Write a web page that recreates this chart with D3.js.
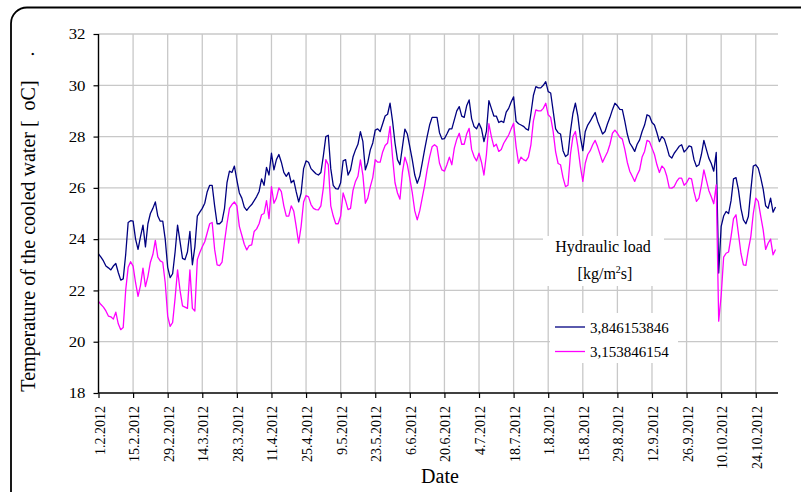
<!DOCTYPE html>
<html>
<head>
<meta charset="utf-8">
<script src="https://cdn.jsdelivr.net/npm/d3@7"></script>
<style>
  html, body { margin: 0; padding: 0; background: #fff; }
  svg { display: block; }
  svg text { font-family: "Liberation Serif", "Times New Roman", Times, serif; }
</style>
</head>
<body>
<svg id="chart" width="801" height="492"></svg>
<script>
// ---- data (daily values, starting 1.2.2012) ----
const startDate = "2012-02-01";
const endDate = "2012-11-02";
const seriesNames = ["3,846153846", "3,153846154"];
const seriesColors = ["#000080", "#ff00ff"];

const load3846 = [
23.42,23.3,23.15,22.95,22.88,22.8,22.95,23.05,22.7,22.4,
22.45,23.4,24.65,24.72,24.7,24.0,23.6,24.1,24.55,23.7,
24.6,25.0,25.2,25.45,24.9,24.7,24.7,24.0,22.9,22.5,
22.65,23.5,24.55,23.9,23.25,23.2,23.5,24.3,23.0,23.7,
24.9,25.05,25.2,25.4,25.85,26.1,26.1,25.3,24.6,24.6,
24.7,25.2,26.2,26.65,26.6,26.85,26.3,25.8,25.6,25.25,
25.12,25.25,25.35,25.5,25.66,25.86,26.35,26.1,26.8,26.5,
27.35,26.7,27.1,27.3,27.0,26.6,26.45,26.6,26.2,26.3,
25.85,25.45,25.8,26.75,27.05,27.0,26.75,26.65,26.55,26.5,
26.6,27.25,28.0,28.05,26.75,26.1,25.97,25.95,26.2,27.05,
27.1,26.5,26.7,27.2,27.48,27.7,28.19,27.8,26.7,27.0,
27.48,27.75,28.25,28.3,28.2,28.5,28.8,28.87,29.3,28.6,
27.75,27.1,26.9,27.6,28.29,28.1,27.6,27.09,26.5,26.18,
26.45,26.96,27.5,28.0,28.45,28.75,28.75,28.75,28.15,27.9,
27.92,28.1,28.3,28.3,28.65,29.0,29.17,28.8,28.75,29.2,
29.43,28.7,28.39,28.3,28.52,28.3,27.8,28.2,29.4,29.1,
28.8,28.8,28.55,28.6,28.55,28.95,29.1,29.35,29.55,28.6,
28.5,28.45,28.4,28.3,28.25,28.9,29.6,29.95,29.9,29.9,
30.0,30.14,29.75,29.7,29.0,28.3,28.15,28.1,27.45,27.22,
27.3,28.2,28.9,29.3,28.8,28.0,27.45,28.2,28.45,28.6,
28.78,28.94,28.6,28.35,28.1,28.2,28.5,28.75,29.05,29.3,
29.2,29.06,29.05,28.6,28.1,27.75,27.6,27.42,27.7,27.87,
28.2,28.45,28.85,28.8,28.55,28.45,28.15,27.8,28.0,27.9,
27.6,27.25,27.16,27.35,27.48,27.62,27.68,27.4,27.5,27.64,
27.6,27.1,26.83,26.9,27.3,27.85,27.5,27.16,26.95,26.65,
27.38,22.68,24.5,24.9,25.08,25.0,25.5,26.35,26.4,25.92,
25.2,24.75,24.6,24.88,25.9,26.85,26.9,26.77,26.4,25.95,
25.3,25.2,25.6,25.05,25.25
];

const load3153 = [
21.57,21.45,21.35,21.2,21.0,20.97,20.88,21.15,20.7,20.47,
20.55,22.0,22.9,23.12,22.95,22.3,21.77,22.2,22.87,22.15,
22.55,23.1,23.4,23.95,23.3,23.15,23.1,22.3,21.0,20.6,
20.75,21.7,22.8,22.0,21.4,21.35,21.3,22.8,21.3,21.2,
23.2,23.48,23.7,23.9,24.25,24.6,24.65,23.6,23.0,22.97,
23.1,23.9,24.6,25.2,25.35,25.45,25.3,24.5,24.15,23.8,
23.58,23.75,23.78,24.3,24.4,24.6,24.95,25.0,25.5,24.8,
26.05,25.4,25.6,26.0,25.85,25.3,24.9,24.9,25.3,25.1,
24.5,23.85,24.5,25.45,25.7,25.65,25.35,25.2,25.15,25.14,
25.3,26.0,27.1,26.9,25.3,24.9,24.6,24.6,24.9,25.8,
25.5,25.15,25.2,25.9,26.25,26.45,27.09,26.5,25.4,25.6,
26.05,26.4,27.1,27.0,27.0,27.4,27.65,27.75,28.4,27.2,
26.2,25.8,25.56,26.6,27.2,26.9,26.35,25.8,25.1,24.75,
25.1,25.6,26.1,26.7,27.2,27.6,27.68,27.6,26.96,26.7,
26.65,26.9,27.2,26.9,27.55,27.9,28.13,27.7,27.7,28.1,
28.32,27.5,27.22,27.05,27.35,27.0,26.5,27.3,28.5,28.0,
27.61,27.7,27.42,27.5,27.74,27.9,28.06,28.3,28.52,27.61,
26.96,27.2,27.1,27.05,27.2,27.68,28.6,29.04,29.0,29.0,
29.1,29.3,28.85,28.75,28.2,27.4,26.95,26.9,26.4,26.05,
26.1,27.3,28.0,28.2,27.6,26.85,26.25,26.96,27.3,27.45,
27.68,27.85,27.6,27.3,27.0,27.2,27.4,27.7,28.13,28.25,
28.13,27.97,27.9,27.5,27.0,26.65,26.45,26.25,26.5,26.7,
27.2,27.42,27.85,27.8,27.55,27.3,26.9,26.6,26.85,26.75,
26.45,26.0,25.99,26.05,26.25,26.38,26.38,26.1,26.2,26.38,
26.35,25.85,25.47,25.6,26.1,26.7,26.3,25.9,25.65,25.38,
26.12,20.8,21.8,23.3,23.45,23.5,24.1,24.8,24.95,24.2,
23.45,23.0,22.98,23.58,24.1,25.0,25.6,25.47,24.9,24.36,
23.6,23.84,24.0,23.39,23.6
];

const yTicks = [18, 20, 22, 24, 26, 28, 30, 32];
const xTickLabels = ["1.2.2012","15.2.2012","29.2.2012","14.3.2012","28.3.2012","11.4.2012",
  "25.4.2012","9.5.2012","23.5.2012","6.6.2012","20.6.2012","4.7.2012","18.7.2012",
  "1.8.2012","15.8.2012","29.8.2012","12.9.2012","26.9.2012","10.10.2012","24.10.2012"];

const yTitle = "Temperature of the cooled water [  oC]";
const xTitle = "Date";
const legendTitle1 = "Hydraulic load";

// ---- layout ----
const FONT = '"Liberation Serif", "Times New Roman", Times, serif';
const svg = d3.select("#chart");
const plot = { left: 98.5, right: 778, top: 34, bottom: 393 };

const parseDMY = s => { const p = s.split("."); return new Date(Date.UTC(+p[2], +p[1] - 1, +p[0])); };
const parseISO = d3.utcParse("%Y-%m-%d");
const t0 = parseISO(startDate);

const x = d3.scaleUtc().domain([t0, parseISO(endDate)]).range([plot.left, plot.right]);
const y = d3.scaleLinear().domain([18, 32]).range([plot.bottom, plot.top]);

// frame
svg.append("rect").attr("x", 11).attr("y", 7.5).attr("width", 830).attr("height", 530)
  .attr("rx", 16).attr("fill", "#fff").attr("stroke", "#000").attr("stroke-width", 1.8);

const tickDates = xTickLabels.map(parseDMY);

// gridlines
const grid = svg.append("g").attr("stroke", "#c8c8c8").attr("stroke-width", 1.3);
grid.selectAll("line.h").data(yTicks.filter(v => v > 18)).join("line")
  .attr("x1", plot.left).attr("x2", plot.right)
  .attr("y1", d => y(d)).attr("y2", d => y(d));
grid.selectAll("line.v").data(tickDates.slice(1)).join("line")
  .attr("x1", d => x(d)).attr("x2", d => x(d))
  .attr("y1", plot.top).attr("y2", plot.bottom);

// legend backgrounds (cover gridlines)
svg.append("rect").attr("x", 543).attr("y", 236).attr("width", 121).attr("height", 50).attr("fill", "#fff");
svg.append("rect").attr("x", 550).attr("y", 313).attr("width", 128).attr("height", 50).attr("fill", "#fff");

// series
const line = d3.line()
  .x((d, i) => x(d3.utcDay.offset(t0, i)))
  .y(d => y(d));
[load3846, load3153].forEach((vals, k) => {
  svg.append("path").datum(vals)
    .attr("d", line).attr("fill", "none")
    .attr("stroke", seriesColors[k]).attr("stroke-width", 1.3)
    .attr("stroke-linejoin", "round");
});

// axes
const yAxis = d3.axisLeft(y).tickValues(yTicks).tickSize(5).tickPadding(6).tickFormat(d3.format("d"));
const gy = svg.append("g").attr("transform", `translate(${plot.left},0)`).call(yAxis)
  .attr("font-family", FONT);
gy.select(".domain").attr("stroke", "#000").attr("stroke-width", 1.4).attr("d", `M0,${plot.top}V${plot.bottom}`);
gy.selectAll(".tick line").attr("stroke", "#000").attr("stroke-width", 1.2);
gy.selectAll(".tick text").attr("font-size", 15).attr("fill", "#000")
  .attr("transform", "scale(1.12,1)").attr("x", -13 / 1.12);

const xAxis = d3.axisBottom(x).tickValues(tickDates).tickSize(5)
  .tickFormat((d, i) => xTickLabels[i]);
const gx = svg.append("g").attr("transform", `translate(0,${plot.bottom})`).call(xAxis)
  .attr("font-family", FONT);
gx.select(".domain").attr("stroke", "#000").attr("stroke-width", 1.4).attr("d", `M${plot.left},0H${plot.right}`);
gx.selectAll(".tick line").attr("stroke", "#000").attr("stroke-width", 1.2);
gx.selectAll(".tick text")
  .attr("font-size", 14).attr("fill", "#000")
  .attr("text-anchor", "end").attr("transform", "rotate(-90)")
  .attr("x", -13).attr("dy", null).attr("y", 5.5);

// titles
svg.append("text").attr("transform", "translate(35,236) rotate(-90)")
  .attr("text-anchor", "middle").attr("font-size", 20).attr("fill", "#000")
  .attr("xml:space", "preserve").style("white-space", "pre").text(yTitle);
svg.append("text").attr("x", 34).attr("y", 54).attr("font-size", 20).attr("fill", "#000")
  .attr("text-anchor", "middle").attr("transform", "rotate(-90,34,54)").text(".");
svg.append("text").attr("x", 440).attr("y", 483).attr("text-anchor", "middle")
  .attr("font-size", 20).attr("fill", "#000").text(xTitle);

// legend
const lg = svg.append("g").attr("fill", "#000").attr("font-size", 16);
lg.append("text").attr("x", 603).attr("y", 252).attr("text-anchor", "middle").text(legendTitle1);
const unit = lg.append("text").attr("x", 605).attr("y", 279).attr("text-anchor", "middle");
unit.append("tspan").text("[kg/m");
unit.append("tspan").attr("font-size", 10).attr("dy", -6).text("2");
unit.append("tspan").attr("dy", 6).text("s]");

const entries = lg.selectAll("g.entry").data(seriesNames).join("g")
  .attr("transform", (d, i) => `translate(555,${327 + i * 24.5})`);
entries.append("line").attr("x1", 0).attr("x2", 30)
  .attr("stroke", (d, i) => seriesColors[i]).attr("stroke-width", 1.3);
entries.append("text").attr("x", 35).attr("y", 5.5).attr("font-size", 15).text(d => d);
</script>
</body>
</html>
